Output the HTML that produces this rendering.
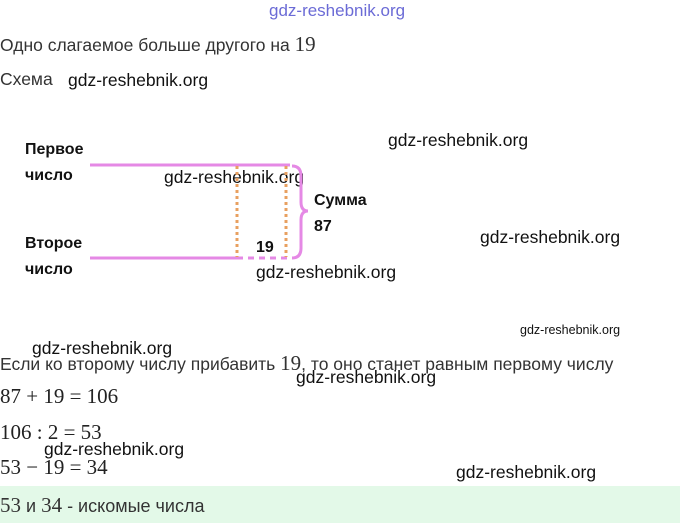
<!DOCTYPE html>
<html><head><meta charset="utf-8"><style>
body{margin:0;width:680px;height:523px;background:#fff;position:relative;overflow:hidden;font-family:"Liberation Sans","DejaVu Sans",sans-serif;color:#222}
.a{position:absolute;white-space:nowrap}
.w{font-size:17.5px;color:#111}
.t{font-size:17.5px;color:#333}
.b{font-size:16px;font-weight:bold;color:#111}
.m{font-family:"Liberation Serif",serif;font-size:21px}
</style></head><body>
<div class="a" style="left:269px;top:1px;font-size:17px;color:#6b6bd6">gdz-reshebnik.org</div>
<div class="a t" style="left:0;top:32px">Одно слагаемое больше другого на <span class="m">19</span></div>
<div class="a t" style="left:0;top:69px">Схема</div>
<div class="a w" style="left:68px;top:70px">gdz-reshebnik.org</div>
<div class="a w" style="left:388px;top:130px">gdz-reshebnik.org</div>
<div class="a b" style="left:25px;top:141px">Первое</div>
<div class="a b" style="left:25px;top:167px">число</div>
<div class="a w" style="left:164px;top:167px">gdz-reshebnik.org</div>
<div class="a b" style="left:314px;top:192px">Сумма</div>
<div class="a b" style="left:314px;top:218px">87</div>
<div class="a w" style="left:480px;top:227px">gdz-reshebnik.org</div>
<div class="a b" style="left:25px;top:235px">Второе</div>
<div class="a b" style="left:256px;top:239px">19</div>
<div class="a b" style="left:25px;top:261px">число</div>
<div class="a w" style="left:256px;top:262px">gdz-reshebnik.org</div>
<svg class="a" style="left:0;top:0" width="680" height="523">
<line x1="90" y1="165" x2="290" y2="165" stroke="#e589e5" stroke-width="3"/>
<line x1="90" y1="258" x2="237" y2="258" stroke="#e589e5" stroke-width="3"/>
<line x1="237" y1="258" x2="290" y2="258" stroke="#e589e5" stroke-width="3" stroke-dasharray="6,5"/>
<line x1="237" y1="166" x2="237" y2="257" stroke="#e8a060" stroke-width="3" stroke-dasharray="3,3"/>
<line x1="286" y1="166" x2="286" y2="257" stroke="#e8a060" stroke-width="3" stroke-dasharray="3,3"/>
<path d="M292 166 Q301 166 301 176 L301 202 Q301 211 308 211 Q301 211 301 220 L301 248 Q301 258 292 258" fill="none" stroke="#e589e5" stroke-width="3"/>
</svg>
<div class="a" style="left:520px;top:323px;font-size:12.5px;color:#111">gdz-reshebnik.org</div>
<div class="a w" style="left:32px;top:338px">gdz-reshebnik.org</div>
<div class="a t" style="left:0;top:351px">Если ко второму числу прибавить <span class="m">19</span>, то оно станет равным первому числу</div>
<div class="a w" style="left:296px;top:367px">gdz-reshebnik.org</div>
<div class="a m" style="left:0;top:384px">87 + 19 = 106</div>
<div class="a m" style="left:0;top:420px">106 : 2 = 53</div>
<div class="a w" style="left:44px;top:439px">gdz-reshebnik.org</div>
<div class="a m" style="left:0;top:455px">53 − 19 = 34</div>
<div class="a w" style="left:456px;top:462px">gdz-reshebnik.org</div>
<div class="a" style="left:0;top:486px;width:680px;height:37px;background:#e3f9e8"></div>
<div class="a t" style="left:0;top:493px;font-size:18px"><span class="m">53</span> и <span class="m">34</span> - искомые числа</div>
</body></html>
